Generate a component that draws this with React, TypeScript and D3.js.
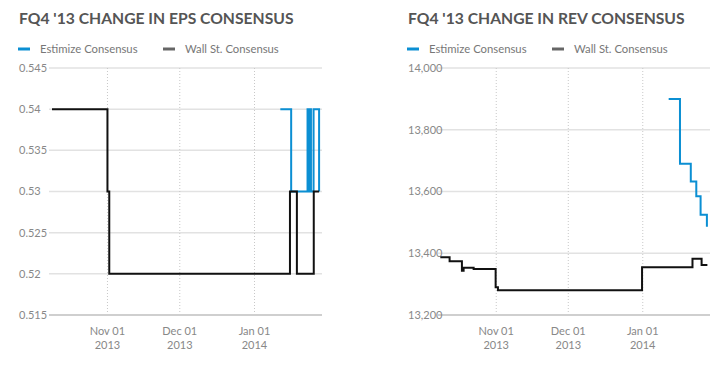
import { useEffect, useRef } from "react";
import * as d3 from "d3";

const parse = d3.timeParse("%Y-%m-%d %H:%M");

// shared time axis
const xStart = "2013-10-07 18:00";
const xEnd = "2014-01-29 00:00";
const xTicks = ["2013-11-01 00:00", "2013-12-01 00:00", "2014-01-01 00:00"];

const legendLabels = ["Estimize Consensus", "Wall St. Consensus"];

// EPS panel
const epsEstimizeDates = [
  "2014-01-11 17:00", "2014-01-16 05:00", "2014-01-23 00:00", "2014-01-23 10:00",
  "2014-01-23 20:00", "2014-01-24 10:00", "2014-01-25 12:00", "2014-01-27 19:00",
];
const epsEstimizeValues = [0.54, 0.53, 0.54, 0.53, 0.54, 0.53, 0.54, 0.53];

const epsWallStDates = [
  "2013-10-09 00:00", "2013-11-01 00:00", "2013-11-01 18:00", "2014-01-15 17:00",
  "2014-01-18 14:00", "2014-01-25 14:00", "2014-01-27 19:00",
];
const epsWallStValues = [0.54, 0.53, 0.52, 0.53, 0.52, 0.53, 0.53];

const epsTicks = [0.515, 0.52, 0.525, 0.53, 0.535, 0.54, 0.545];

// REV panel (millions)
const revEstimizeDates = [
  "2014-01-11 19:00", "2014-01-16 12:00", "2014-01-21 00:00",
  "2014-01-23 07:00", "2014-01-25 02:00", "2014-01-27 17:00",
];
const revEstimizeValues = [13900, 13690, 13632, 13585, 13525, 13486];

const revWallStDates = [
  "2013-10-08 17:00", "2013-10-12 14:00", "2013-10-17 17:00", "2013-10-18 10:00",
  "2013-10-22 14:00", "2013-10-31 18:00", "2013-11-01 17:00", "2013-12-31 17:00",
  "2014-01-21 17:00", "2014-01-25 12:00", "2014-01-27 22:00",
];
const revWallStValues = [
  13387, 13374, 13343, 13353, 13349, 13290, 13280, 13355, 13382, 13362, 13362,
];

const revTicks = [13200, 13400, 13600, 13800, 14000];

const FONT = "Lato, 'Open Sans', sans-serif";
const BLUE = "#0b8fd3";
const BLACK = "#111";

type Pt = { date: Date; value: number };

function toPoints(dates: string[], values: number[]): Pt[] {
  return dates.map((d, i) => ({ date: parse(d) as Date, value: values[i] }));
}

function Panel({ title, left, plotWidth, estimize, wallSt, ticks, yFormat }: {
  title: string; left: number; plotWidth: number;
  estimize: Pt[]; wallSt: Pt[]; ticks: number[]; yFormat: (v: number) => string;
}) {
  const ref = useRef<SVGGElement>(null);

  useEffect(() => {
    if (!ref.current) return;
    const g = d3.select(ref.current);
    g.selectAll("*").remove();

    const top = 68, bottom = 315;
    const x = d3.scaleTime()
      .domain([parse(xStart) as Date, parse(xEnd) as Date])
      .range([left, left + plotWidth]);
    const y = d3.scaleLinear()
      .domain([ticks[0], ticks[ticks.length - 1]])
      .range([bottom, top]);

    // title
    g.append("text")
      .attr("x", left - 30).attr("y", 24)
      .style("font-family", FONT).style("font-weight", 700)
      .style("font-size", "15.7px").attr("fill", "#555")
      .text(title);

    // legend
    const legend = [
      { label: legendLabels[0], color: BLUE, dx: -31 },
      { label: legendLabels[1], color: "#666", dx: 114 },
    ];
    legend.forEach((l) => {
      g.append("line")
        .attr("x1", left + l.dx).attr("x2", left + l.dx + 12)
        .attr("y1", 49).attr("y2", 49)
        .attr("stroke", l.color).attr("stroke-width", 3);
      g.append("text")
        .attr("x", left + l.dx + 22).attr("y", 53)
        .style("font-family", FONT).style("font-size", "11.3px")
        .attr("fill", "#777")
        .text(l.label);
    });

    // horizontal grid + y labels
    ticks.forEach((t, i) => {
      g.append("line")
        .attr("x1", left).attr("x2", left + plotWidth)
        .attr("y1", y(t)).attr("y2", y(t))
        .attr("stroke", i === 0 ? "#cfcfcf" : "#e2e2e2")
        .attr("stroke-width", i === 0 ? 2 : 1.5);
      g.append("text")
        .attr("x", left - 30).attr("y", y(t)).attr("dy", "0.35em")
        .style("font-family", FONT).style("font-size", "11px")
        .attr("fill", "#888")
        .text(yFormat(t));
    });

    // vertical dotted grid + x labels
    const fmtA = d3.timeFormat("%b %d");
    const fmtB = d3.timeFormat("%Y");
    xTicks.map((s) => parse(s) as Date).forEach((d) => {
      g.append("line")
        .attr("x1", x(d)).attr("x2", x(d))
        .attr("y1", top).attr("y2", bottom - 1)
        .attr("stroke", "#c8c8c8").attr("stroke-width", 1)
        .attr("stroke-dasharray", "1,2");
      g.append("text")
        .attr("x", x(d)).attr("y", 335).attr("text-anchor", "middle")
        .style("font-family", FONT).style("font-size", "11px")
        .attr("fill", "#888")
        .text(fmtA(d));
      g.append("text")
        .attr("x", x(d)).attr("y", 349).attr("text-anchor", "middle")
        .style("font-family", FONT).style("font-size", "11px")
        .attr("fill", "#888")
        .text(fmtB(d));
    });

    const line = d3.line<Pt>()
      .x((d) => x(d.date))
      .y((d) => y(d.value))
      .curve(d3.curveStepAfter);

    g.append("path").datum(estimize)
      .attr("d", line).attr("fill", "none")
      .attr("stroke", BLUE).attr("stroke-width", 2);
    g.append("path").datum(wallSt)
      .attr("d", line).attr("fill", "none")
      .attr("stroke", BLACK).attr("stroke-width", 2);
  }, [title, left, plotWidth, estimize, wallSt, ticks, yFormat]);

  return <g ref={ref} />;
}

const epsFmt = (v: number) => String(+v.toFixed(3));
const revFmt = d3.format(",");

export default function App() {
  return (
    <svg width={724} height={368} style={{ position: "absolute", left: 0, top: 0, background: "#fff" }}>
      <Panel
        title="FQ4 '13 CHANGE IN EPS CONSENSUS"
        left={49} plotWidth={273}
        estimize={toPoints(epsEstimizeDates, epsEstimizeValues)}
        wallSt={toPoints(epsWallStDates, epsWallStValues)}
        ticks={epsTicks} yFormat={epsFmt}
      />
      <Panel
        title="FQ4 '13 CHANGE IN REV CONSENSUS"
        left={438} plotWidth={272}
        estimize={toPoints(revEstimizeDates, revEstimizeValues)}
        wallSt={toPoints(revWallStDates, revWallStValues)}
        ticks={revTicks} yFormat={revFmt}
      />
    </svg>
  );
}
